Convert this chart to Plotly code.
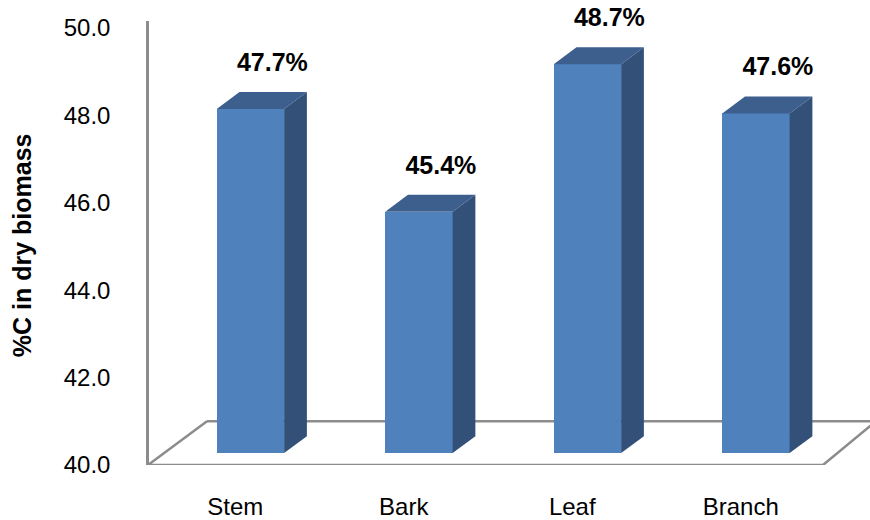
import plotly.graph_objects as go

# ---- data ----
categories = ["Stem", "Bark", "Leaf", "Branch"]
carbon_pct = [47.7, 45.4, 48.7, 47.6]
y_ticks = [40.0, 42.0, 44.0, 46.0, 48.0, 50.0]

# ---- styling / geometry ----
W, H = 870, 520
ML, MR, MT, MB = 149, 0, 21, 52
FRONT = "#4F81BD"
SIDE = "#325078"
TOP = "#3C5F8E"
LINE = "#8C8C8C"
FONT = "Liberation Sans, Arial, sans-serif"

BASE = 40.0
BAR_W = 0.40          # front face width (category units)
DEPTH_X = 0.135       # depth offset in category units
DEPTH_Y = 0.378       # depth offset in bar-axis value units

x_range = [-0.602, 3.677]
y_range = [40.0, 50.16]         # label axis
y2_range = [39.733, 49.667]     # bar axis (perspective-shifted)

plot_w = W - ML - MR
plot_h = H - MT - MB


def px_x(p):
    return x_range[0] + (p - ML) / plot_w * (x_range[1] - x_range[0])


def px_y2(p):
    return y2_range[1] - (p - MT) / plot_h * (y2_range[1] - y2_range[0])


fig = go.Figure()

# invisible trace so the label axis is drawn
fig.add_trace(go.Scatter(x=[x_range[0]], y=[y_range[0]], mode="markers",
                         marker=dict(opacity=0), showlegend=False, hoverinfo="skip"))

# side and top faces
for i, v in enumerate(carbon_pct):
    xl, xr = i - BAR_W / 2, i + BAR_W / 2
    fig.add_trace(go.Scatter(
        x=[xr, xr, xr + DEPTH_X, xr + DEPTH_X, xr],
        y=[BASE, v, v + DEPTH_Y, BASE + DEPTH_Y, BASE],
        fill="toself", fillcolor=SIDE, mode="lines", line=dict(width=0, color=SIDE),
        yaxis="y2", hoverinfo="skip", showlegend=False))
    fig.add_trace(go.Scatter(
        x=[xl, xr, xr + DEPTH_X, xl + DEPTH_X, xl],
        y=[v, v, v + DEPTH_Y, v + DEPTH_Y, v],
        fill="toself", fillcolor=TOP, mode="lines", line=dict(width=0, color=TOP),
        yaxis="y2", hoverinfo="skip", showlegend=False))

# front faces
fig.add_trace(go.Bar(
    x=list(range(len(categories))),
    y=[v - BASE for v in carbon_pct],
    base=[BASE] * len(carbon_pct),
    width=BAR_W, marker=dict(color=FRONT, line=dict(width=0)),
    yaxis="y2", showlegend=False, hoverinfo="skip"))

# data labels
fig.add_trace(go.Scatter(
    x=[i + 0.13 for i in range(len(categories))],
    y=[v + DEPTH_Y + 0.33 for v in carbon_pct],
    mode="text", text=[f"<b>{v:.1f}%</b>" for v in carbon_pct],
    textposition="top center",
    textfont=dict(family=FONT, size=25, color="#000000"),
    yaxis="y2", cliponaxis=False, showlegend=False, hoverinfo="skip"))

# floor outline
fx0, fx1 = px_x(148), px_x(823)
bx0, bx1 = px_x(207), px_x(871)
fy, by = px_y2(468), px_y2(424)
floor_path = (f"M {bx0},{by} L {fx0},{fy} L {fx1},{fy} L {bx1},{by - (by - fy) * 0.09}")
fig.add_shape(type="path", path=floor_path, xref="x", yref="y2",
              line=dict(color=LINE, width=2.5), layer="below")
fig.add_shape(type="line", x0=bx0, x1=bx1, y0=by, y1=by, xref="x", yref="y2",
              line=dict(color=LINE, width=2.5), layer="below")

fig.update_layout(
    width=W, height=H,
    margin=dict(l=ML, r=MR, t=MT, b=MB, pad=0),
    paper_bgcolor="white", plot_bgcolor="white",
    font=dict(family=FONT, size=24, color="#000000"),
    bargap=0,
    xaxis=dict(range=x_range, showgrid=False, zeroline=False, showline=False,
               tickmode="array", tickvals=[i - 0.09 for i in range(len(categories))],
               ticktext=categories, ticks="", ticklabelstandoff=25,
               tickfont=dict(family=FONT, size=24)),
    yaxis=dict(range=y_range, showgrid=False, zeroline=False, showline=True,
               linecolor=LINE, linewidth=2.5, tickmode="array", tickvals=y_ticks,
               ticktext=[f"{t:.1f}" for t in y_ticks], ticks="", ticklabelstandoff=31,
               tickfont=dict(family=FONT, size=24)),
    yaxis2=dict(range=y2_range, overlaying="y", visible=False, showgrid=False,
                zeroline=False),
    annotations=[dict(text="<b>%C in dry biomass</b>", textangle=-90,
                      xref="paper", yref="paper", x=(22 - ML) / plot_w, y=0.495,
                      xanchor="center", yanchor="middle", showarrow=False,
                      font=dict(family=FONT, size=25, color="#000000"))],
)

fig.write_html("out.html")
